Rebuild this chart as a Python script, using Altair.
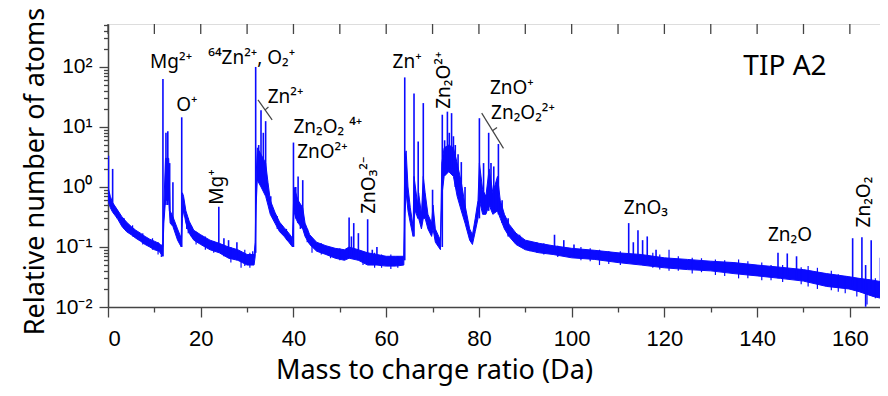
import altair as alt
import pandas as pd

# ---------------- data ----------------
# continuous background band (noise envelope) of the spectrum
band_mass = [0.0, 0.5, 1.0, 2.0, 3.0, 4.0, 5.0, 6.0, 7.0, 8.0, 9.0, 10.0, 11.0, 11.8,
             12.05, 12.4, 13.1, 13.4, 14.0, 15.0, 15.8, 16.05, 16.3, 16.8, 17.5, 18.5,
             20.0, 22.0, 24.0, 26.0, 28.0, 30.0, 31.5, 31.75, 31.95, 32.2, 33.0, 34.0,
             34.5, 35.0, 36.0, 37.0, 38.0, 39.0, 39.8, 40.1, 40.5, 41.0, 42.0, 42.5,
             43.5, 45.0, 47.0, 49.0, 51.0, 52.0, 54.0, 56.0, 58.0, 60.0, 62.0, 63.8,
             64.0, 64.3, 64.7, 65.2, 65.8, 66.0, 66.3, 66.8, 67.0, 67.6, 68.0, 68.4,
             69.0, 69.8, 70.1, 70.6,
             71.7, 72.0, 72.5, 73.5, 74.5, 75.3, 76.2, 77.0, 78.0, 78.6, 79.2, 79.8, 80.1,
             80.8, 81.5, 82.2, 83.0, 84.0, 84.6, 85.5, 86.5, 88.0, 90.0, 93.0, 96.0,
             100.0, 105.0, 110.0, 115.0, 120.0, 125.0, 130.0, 135.0, 140.0, 145.0,
             150.0, 155.0, 159.8, 162.0, 165.0, 168.4]
band_lo = [0.6, 0.45, 0.38, 0.3, 0.22, 0.18, 0.16, 0.14, 0.125, 0.11, 0.1, 0.09, 0.085, 0.07,
           0.25, 0.6, 0.6, 0.25, 0.22, 0.13, 0.1, 0.3, 0.4, 0.25, 0.17, 0.13,
           0.11, 0.09, 0.08, 0.065, 0.06, 0.05, 0.05, 0.07, 0.5, 1.3, 1.0, 0.7,
           0.5, 0.35, 0.25, 0.18, 0.15, 0.12, 0.1, 0.4, 0.3, 0.25, 0.2, 0.15,
           0.11, 0.085, 0.075, 0.065, 0.06, 0.065, 0.06, 0.05, 0.05, 0.048, 0.048, 0.05,
           0.3, 0.8, 0.4, 0.25, 0.15, 0.3, 0.4, 0.3, 0.3, 0.2, 0.3, 0.3,
           0.2, 0.15, 0.2, 0.12,
           0.09, 0.7, 1.5, 1.8, 1.5, 0.7, 0.4, 0.25, 0.13, 0.11, 0.18, 0.3, 0.6,
           0.35, 0.35, 0.5, 0.35, 0.4, 0.3, 0.2, 0.15, 0.11, 0.09, 0.08, 0.075,
           0.066, 0.062, 0.055, 0.05, 0.045, 0.042, 0.04, 0.036, 0.033, 0.03,
           0.027, 0.022, 0.02, 0.018, 0.015, 0.013]
band_hi = [1.0, 0.7, 0.55, 0.42, 0.32, 0.26, 0.22, 0.19, 0.17, 0.15, 0.135, 0.125, 0.115, 0.1,
           0.5, 3.0, 3.0, 0.4, 0.32, 0.2, 0.14, 0.8, 0.7, 0.4, 0.27, 0.19,
           0.16, 0.13, 0.115, 0.1, 0.09, 0.075, 0.075, 0.12, 1.5, 4.5, 3.5, 2.5,
           1.2, 0.6, 0.38, 0.26, 0.21, 0.17, 0.14, 1.0, 0.8, 0.6, 0.45, 0.25,
           0.16, 0.12, 0.105, 0.095, 0.09, 0.1, 0.09, 0.08, 0.075, 0.07, 0.07, 0.07,
           3.0, 4.0, 1.0, 0.45, 0.22, 1.5, 1.0, 0.5, 0.8, 0.35, 1.5, 0.8,
           0.35, 0.25, 0.5, 0.2,
           0.13, 2.5, 4.5, 5.0, 4.5, 2.5, 1.2, 0.5, 0.2, 0.16, 0.3, 0.6, 2.5,
           0.9, 0.7, 2.0, 0.8, 1.5, 0.6, 0.35, 0.24, 0.17, 0.13, 0.115, 0.105,
           0.095, 0.088, 0.08, 0.075, 0.066, 0.062, 0.058, 0.055, 0.05, 0.046,
           0.042, 0.036, 0.032, 0.03, 0.028, 0.025]

# individual spectral peaks: position, top and foot
peak_mass = [0.1, 1.0, 1.9, 11.85, 12.5, 12.9, 13.3, 14.0, 15.9, 17.0, 18.0, 23.9, 25.0, 26.0,
             27.8, 31.85, 32.5, 33.0, 33.5, 34.0, 35.1, 40.0, 40.5, 41.0, 41.5, 42.0, 43.0,
             52.0, 52.5, 53.0, 54.0, 56.0, 57.0, 58.0, 64.0, 66.0, 66.9, 68.0, 70.0,
             72.1, 72.6, 73.2, 73.6, 74.1, 74.5, 74.9, 75.5, 76.2, 77.0, 80.1, 81.0,
             82.1, 82.6, 83.2, 84.2, 85.0, 86.3, 96.3, 98.3, 100.5, 112.3, 113.3,
             114.3, 115.3, 116.3, 118.2, 144.5, 146.5, 148.5, 160.6, 162.6, 163.4,
             164.6, 166.6, 167.4]
peak_top = [3.3, 2.0, 0.42, 63, 8.0, 8.5, 2.5, 1.2, 14.5, 0.3, 0.22, 0.47, 0.14, 0.13,
            0.12, 100, 5.0, 19, 8.0, 12.5, 0.7, 5.5, 1.0, 1.5, 0.5, 1.3, 0.2,
            0.31, 0.15, 0.25, 0.17, 0.29, 0.09, 0.1, 67, 36, 5.7, 25, 0.9,
            16, 6.0, 18, 8.0, 17, 7.0, 5.0, 3.5, 2.6, 1.0, 14, 2.5,
            8.0, 2.5, 2.2, 5.2, 0.6, 0.3, 0.16, 0.13, 0.11, 0.25, 0.12,
            0.19, 0.13, 0.15, 0.09, 0.08, 0.078, 0.07, 0.14, 0.145, 0.05,
            0.13, 0.066, 0.04]
peak_base = [0.7, 0.4, 0.3, 0.07, 0.5, 0.5, 0.4, 0.25, 0.1, 0.2, 0.15, 0.09, 0.07, 0.07,
             0.06, 0.08, 1.5, 1.5, 1.5, 1.0, 0.4, 0.1, 0.3, 0.25, 0.2, 0.2, 0.12,
             0.07, 0.07, 0.07, 0.06, 0.055, 0.05, 0.05, 0.06, 0.15, 0.3, 0.3, 0.2,
             0.1, 2.0, 2.0, 2.0, 2.0, 2.0, 1.0, 1.0, 0.5, 0.3, 0.3, 0.4,
             0.4, 0.5, 0.4, 0.35, 0.25, 0.15, 0.08, 0.08, 0.07, 0.06, 0.06,
             0.06, 0.055, 0.055, 0.05, 0.03, 0.033, 0.03, 0.022, 0.02, 0.0101,
             0.02, 0.018, 0.0101]

# noise excursions beyond the band
noise_mass = [3.5, 5.3, 7.5, 9.6, 10.8, 11.5, 17.3, 19.0, 21.0, 22.8, 26.5, 28.7, 29.5,
              30.6, 31.2, 36.5, 38.5, 44.0, 46.0, 48.0, 50.0, 55.0, 57.5, 59.0, 61.0,
              62.5, 88.8, 91.0, 92.5, 94.0, 97.0, 102.0, 104.0, 106.0, 108.0, 110.5,
              117.5, 119.0, 121.0, 123.0, 126.0, 128.0, 131.0, 133.0, 136.0, 138.0,
              141.0, 143.0, 145.5, 149.5, 151.0, 153.0, 156.0, 157.5, 159.0, 161.5,
              163.7, 165.5, 167.8]
noise_lo = [0.2, 0.15, 0.11, 0.09, 0.075, 0.068, 0.17, 0.11, 0.09, 0.08, 0.055, 0.045, 0.048,
            0.045, 0.05, 0.2, 0.13, 0.08, 0.075, 0.065, 0.06, 0.05, 0.045, 0.045, 0.043,
            0.045, 0.1, 0.085, 0.08, 0.075, 0.068, 0.06, 0.058, 0.05, 0.052, 0.05,
            0.045, 0.042, 0.04, 0.04, 0.036, 0.038, 0.034, 0.033, 0.03, 0.03,
            0.028, 0.028, 0.026, 0.024, 0.022, 0.02, 0.019, 0.018, 0.017, 0.015,
            0.011, 0.014, 0.011]
noise_hi = [0.3, 0.23, 0.17, 0.14, 0.12, 0.11, 0.3, 0.18, 0.15, 0.125, 0.1, 0.085, 0.09,
            0.08, 0.085, 0.33, 0.2, 0.13, 0.115, 0.1, 0.095, 0.085, 0.08, 0.075, 0.075,
            0.07, 0.16, 0.125, 0.12, 0.115, 0.105, 0.1, 0.095, 0.09, 0.085, 0.085,
            0.08, 0.075, 0.09, 0.07, 0.066, 0.065, 0.062, 0.06, 0.062, 0.058,
            0.055, 0.05, 0.05, 0.046, 0.048, 0.045, 0.04, 0.035, 0.033, 0.03,
            0.025, 0.03, 0.025]

# annotations
label_text = ["Mg²⁺", "O⁺", "⁶⁴Zn²⁺, O₂⁺", "Zn²⁺", "Zn₂O₂ ⁴⁺", "ZnO²⁺", "Zn⁺",
              "ZnO⁺", "Zn₂O₂²⁺", "ZnO₃", "Zn₂O"]
label_mass = [13.6, 17.0, 31.0, 38.3, 40.0, 40.8, 64.5, 87.1, 89.5, 116.0, 147.1]
label_value = [120, 23, 140, 31, 10, 3.8, 120, 45, 17, 0.45, 0.158]
label_align = ["center", "center", "center", "center", "left", "left", "center",
               "center", "center", "center", "center"]

vlabel_text = ["Mg⁺", "ZnO₃²⁻", "Zn₂O²⁺", "Zn₂O₂"]
vlabel_mass = [23.6, 56.3, 72.4, 163.0]
vlabel_value = [1.0, 1.07, 60, 0.56]

bracket_m1 = [32.35, 80.6]
bracket_v1 = [28.2, 17.0]
bracket_m2 = [35.4, 85.3]
bracket_v2 = [13.1, 4.4]
btick_m1 = [33.9, 83.0]
btick_v1 = [19.3, 8.7]
btick_m2 = [34.6, 83.9]
btick_v2 = [21.5, 9.8]

x_ticks = list(range(0, 170, 10))
y_ticks = [k * 10.0 ** e for e in range(-2, 3) for k in range(1, 10)]
y_ticks = [v for v in y_ticks if v <= 520]

# ---------------- chart ----------------
BLUE = "#0a0aff"
GREY = "#444444"
XMAX = 166.5
YDOM = [0.01, 520]

band_df = pd.DataFrame({"mass": band_mass, "lo": band_lo, "hi": band_hi})
peak_df = pd.DataFrame({"mass": peak_mass, "lo": peak_base, "hi": peak_top})
noise_df = pd.DataFrame({"mass": noise_mass, "lo": noise_lo, "hi": noise_hi})
lab_df = pd.DataFrame({"t": label_text, "mass": label_mass, "lo": label_value, "al": label_align})
vlab_df = pd.DataFrame({"t": vlabel_text, "mass": vlabel_mass, "lo": vlabel_value})
br_df = pd.DataFrame({"mass": bracket_m1 + btick_m1, "lo": bracket_v1 + btick_v1,
                      "m2": bracket_m2 + btick_m2, "hi": bracket_v2 + btick_v2})
top_df = pd.DataFrame({"mass": [v for v in x_ticks if v <= XMAX]})

xscale = alt.Scale(domain=[0, XMAX], nice=False, zero=False)
yscale = alt.Scale(type="log", domain=YDOM, nice=False)

lg = "(log(datum.value)/LN10)"
e = f"round({lg})"
is_major = f"abs({lg} - {e}) < 0.001"
ylabel = (f"{is_major} ? ({e} == 2 ? '10²' : {e} == 1 ? '10¹' : {e} == 0 ? '10⁰' : "
          f"{e} == -1 ? '10⁻¹' : '10⁻²') : ''")

x_axis = alt.Axis(
    values=[v for v in x_ticks if v <= XMAX],
    labelExpr="datum.value % 20 == 0 ? datum.label : ''",
    tickSize={"condition": {"test": "datum.value % 20 === 0", "value": 10}, "value": 5},
    tickColor=GREY, tickWidth=1.3, domainColor=GREY, domainWidth=1.5,
    labelFont="Liberation Sans", labelFontSize=22, labelColor="#000", labelPadding=11,
    grid=False, titleFont="Noto Sans",
    titleFontSize=27, titleFontWeight="normal", titleColor="#000",
    titleX=326, titleY=71, titleAlign="center", titleBaseline="alphabetic",
    titleAnchor="start",
)
y_axis = alt.Axis(
    values=y_ticks,
    labelExpr=ylabel,
    tickSize={"condition": {"test": is_major, "value": 9}, "value": 4.5},
    tickColor=GREY, tickWidth=1.3, domainColor=GREY, domainWidth=1.5,
    labelFont="Liberation Sans", labelFontSize=21, labelColor="#000", labelPadding=7,
    labelBaseline="middle", grid=False,
    titleFont="Noto Sans", titleFontSize=27, titleFontWeight="normal",
    titleColor="#000", titleX=-73, titleY=147, titleAngle=270,
    titleAlign="center", titleBaseline="middle", titleAnchor="start",
)

X = alt.X("mass:Q", scale=xscale, axis=x_axis, title="Mass to charge ratio (Da)")
Y = alt.Y("lo:Q", scale=yscale, axis=y_axis, title="Relative number of atoms")

band = alt.Chart(band_df).mark_area(color=BLUE, opacity=1, clip=True, strokeWidth=0).encode(
    x=X, y=Y, y2="hi:Q")
band_edge = alt.Chart(band_df).mark_line(color=BLUE, strokeWidth=1, clip=True).encode(
    x=X, y=Y)
band_edge2 = alt.Chart(band_df).mark_line(color=BLUE, strokeWidth=1, clip=True).encode(
    x=X, y=alt.Y("hi:Q", scale=yscale, axis=y_axis, title="Relative number of atoms"))
noise = alt.Chart(noise_df).mark_rule(color=BLUE, strokeWidth=1.2, clip=True).encode(
    x=X, y=Y, y2="hi:Q")
peaks = alt.Chart(peak_df).mark_rule(color=BLUE, strokeWidth=1.6, clip=True).encode(
    x=X, y=Y, y2="hi:Q")
brackets = alt.Chart(br_df).mark_rule(color=GREY, strokeWidth=1.2).encode(
    x=X, y=Y, x2="m2:Q", y2="hi:Q")
top_ticks = alt.Chart(top_df).mark_rule(color=GREY, strokeWidth=1.3).encode(
    x=X, y=alt.value(0), y2=alt.value(10))

labels_l = alt.Chart(lab_df[lab_df.al == "left"]).mark_text(
    font="Noto Sans", fontSize=19, color="#000", align="left", baseline="middle").encode(
    x=X, y=Y, text="t:N")
labels_c = alt.Chart(lab_df[lab_df.al == "center"]).mark_text(
    font="Noto Sans", fontSize=19, color="#000", align="center", baseline="middle").encode(
    x=X, y=Y, text="t:N")
labels_v = alt.Chart(vlab_df).mark_text(
    font="Noto Sans", fontSize=19, color="#000", align="center", baseline="middle",
    angle=270).encode(x=X, y=Y, text="t:N")
tip = alt.Chart(pd.DataFrame({"t": ["TIP A2"], "mass": [146.0], "lo": [100.0]})).mark_text(
    font="Noto Sans", fontSize=28, color="#000", align="center", baseline="middle").encode(
    x=X, y=Y, text="t:N")

chart = alt.layer(
    band, band_edge, band_edge2, noise, peaks, brackets, top_ticks,
    labels_l, labels_c, labels_v, tip,
).properties(
    width=772, height=283,
    autosize=alt.AutoSizeParams(type="none"),
    padding={"left": 100, "top": 16, "right": 0, "bottom": 80},
).configure_view(stroke=GREY, strokeWidth=1.5).configure(background="white")

chart.save("out.html", embed_options={"renderer": "svg", "actions": False})
